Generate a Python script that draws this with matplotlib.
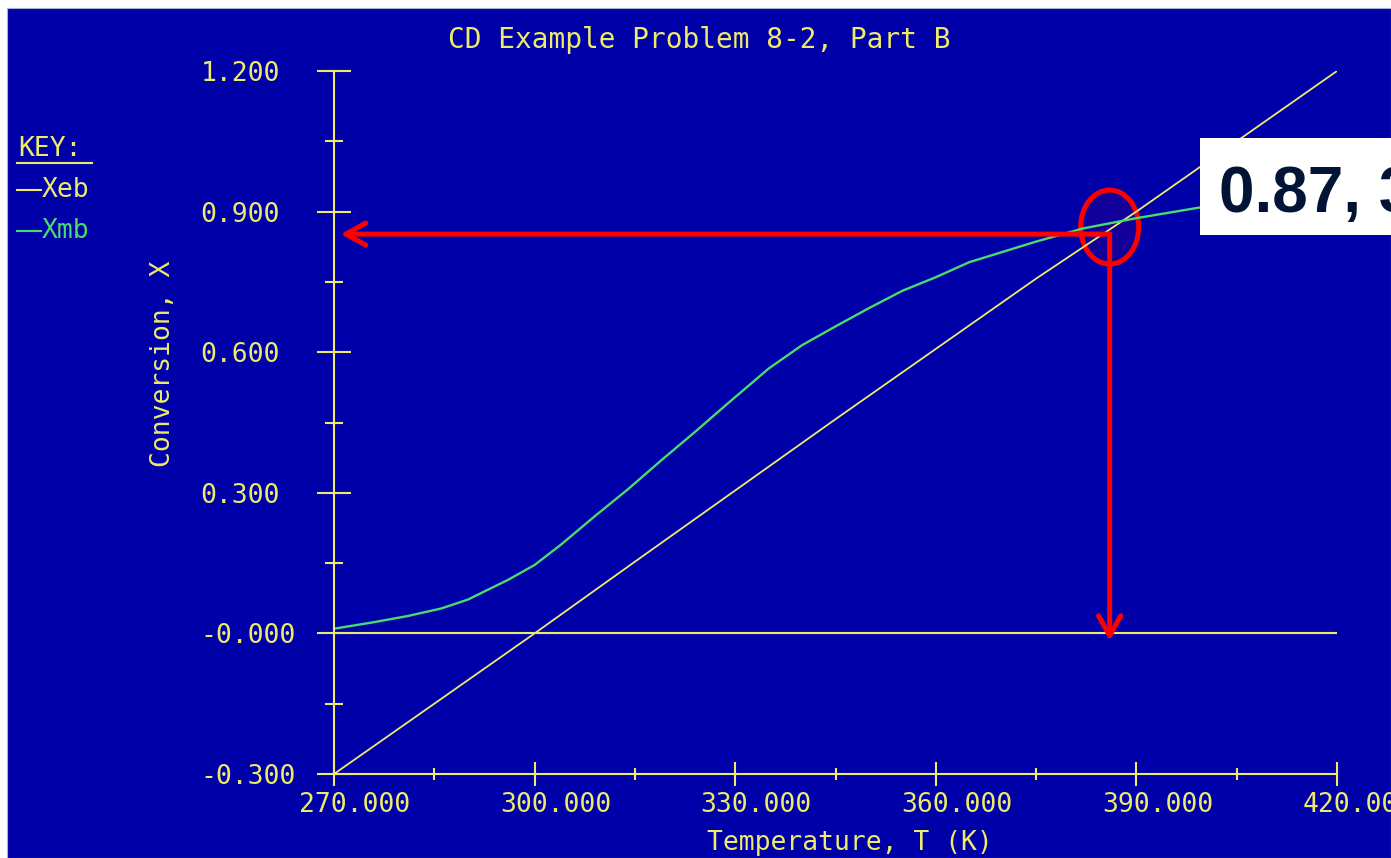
"""
CD Example Problem 8-2, Part B
    conversion vs. temperature: energy balance (Xeb) and mole balance (Xmb),
    with the read-off of the crossing point marked in red
"""

#%% import modules

import numpy as np
import matplotlib.pyplot as plt
import matplotlib as mpl
from matplotlib.patches import Rectangle, Ellipse
from matplotlib.lines import Line2D
from matplotlib.transforms import ScaledTranslation

#%% global plot settings

mpl.rcParams.update(mpl.rcParamsDefault)
plt.rc('font', **{'family': 'monospace', 'monospace': ['DejaVu Sans Mono'], 'size': 19})

bg_blue = '#0000A8'
yel = '#EEEA6A'
grn = '#48DC6C'
red = '#FF0000'

#%% data (read off the screen shot)

# energy balance conversion
T_eb = [270, 285, 300, 315, 330, 345, 360, 375, 390, 405, 420]
X_eb = [-0.300, -0.150, 0.000, 0.153, 0.305, 0.457, 0.607, 0.757, 0.900, 1.050, 1.200]

# mole balance conversion
T_mb = [270, 276, 281, 286, 290, 296, 300, 304, 309, 314, 319, 324, 329,
        335, 340, 345, 350, 355, 360, 365, 370, 375, 382, 390, 400, 410, 420]
X_mb = [0.010, 0.024, 0.037, 0.053, 0.072, 0.114, 0.146, 0.190, 0.250, 0.308,
        0.370, 0.430, 0.492, 0.565, 0.615, 0.655, 0.694, 0.731, 0.760, 0.792,
        0.814, 0.836, 0.864, 0.886, 0.910, 0.925, 0.938]

x_ticks = [270, 300, 330, 360, 390, 420]
x_minor = [285, 315, 345, 375, 405]
x_ticklabels = ['270.000', '300.000', '330.000', '360.000', '390.000', '420.000']
y_ticks = [-0.3, 0.0, 0.3, 0.6, 0.9, 1.2]
y_minor = [-0.15, 0.15, 0.45, 0.75, 1.05]
y_ticklabels = ['-0.300', '-0.000', '0.300', '0.600', '0.900', '1.200']

# key entries
key_names = ['Xeb', 'Xmb']
key_colors = [yel, grn]

# red read-off marks
T_mark = 386.0
X_mark = 0.852
T_arrow_end = 271.0
X_arrow_end = -0.016
X_circle = 0.867
callout = '0.87, 3'

#%% plot

W, H = 1391, 858
fig = plt.figure(figsize=(W/100, H/100), dpi=100, facecolor='white')

# blue screen area (white strip left and top)
fig.patches.append(Rectangle((7/W, 0), 1 - 7/W, (H - 8)/H, transform=fig.transFigure,
                             facecolor=bg_blue, edgecolor='#A8B0E0', lw=0.8, zorder=-1))

ax = fig.add_axes([334/W, (H - 774)/H, (1337 - 334)/W, (774 - 71)/H])
ax.set_facecolor('none')

ax.plot(T_eb, X_eb, color=yel, lw=1.3)
ax.plot(T_mb, X_mb, color=grn, lw=1.7)
ax.axhline(0, color=yel, lw=1.5)

#------------------------------------------------------------------------------
# axes

ax.set_xlim(270, 420)
ax.set_ylim(-0.3, 1.2)
for s in ['top', 'right']:
    ax.spines[s].set_visible(False)
for s in ['left', 'bottom']:
    ax.spines[s].set_color(yel)
    ax.spines[s].set_linewidth(1.5)

ax.set_xticks(x_ticks)
ax.set_xticks(x_minor, minor=True)
ax.set_xticklabels(x_ticklabels)
ax.set_yticks(y_ticks)
ax.set_yticks(y_minor, minor=True)
ax.set_yticklabels(y_ticklabels, ha='left')

ax.tick_params(axis='y', which='major', direction='inout', length=24.5, width=1.5,
               color=yel, labelcolor=yel, pad=84)
ax.tick_params(axis='y', which='minor', direction='inout', length=13, width=1.5, color=yel)
ax.tick_params(axis='x', which='major', direction='inout', length=17.3, width=1.5,
               color=yel, labelcolor=yel, pad=4.3)
ax.tick_params(axis='x', which='minor', direction='inout', length=8.6, width=1.5, color=yel)

# x labels sit a bit right of their ticks on the original screen
shift = ScaledTranslation(0.21, 0, fig.dpi_scale_trans)
for lab in ax.get_xticklabels():
    lab.set_transform(lab.get_transform() + shift)

#------------------------------------------------------------------------------
# texts

fig.text(0.503, 1 - 40/H, 'CD Example Problem 8-2, Part B', color=yel,
         ha='center', va='center', fontsize=20)
fig.text(850/W, 1 - 843/H, 'Temperature, T (K)', color=yel, ha='center', va='center')
fig.text(163/W, 1 - 364/H, 'Conversion, X', color=yel, ha='center', va='center',
         rotation=90)

# key
fig.text(18/W, 1 - 149/H, 'KEY:', color=yel, ha='left', va='center')
fig.add_artist(Line2D([17/W, 92/W], [1 - 163/H]*2, transform=fig.transFigure,
                      color=yel, lw=1.5))
for i, (name, c) in enumerate(zip(key_names, key_colors)):
    ypos = 1 - (190 + 41*i)/H
    fig.add_artist(Line2D([17/W, 41/W], [ypos]*2, transform=fig.transFigure,
                          color=c, lw=1.5))
    fig.text(42/W, ypos, name, color=c, ha='left', va='center')

#------------------------------------------------------------------------------
# red read-off marks

arrow = dict(arrowstyle='->,head_length=0.72,head_width=0.4', mutation_scale=20,
             color=red, lw=3.6, shrinkA=0, shrinkB=0)
ax.annotate('', xy=(T_arrow_end, X_mark), xytext=(T_mark, X_mark),
            arrowprops=arrow, annotation_clip=False)
ax.annotate('', xy=(T_mark, X_arrow_end), xytext=(T_mark, X_mark),
            arrowprops=arrow, annotation_clip=False)
ax.add_patch(Ellipse((T_mark, X_circle), width=8.7, height=0.158,
                     facecolor=(1, 0, 0, 0.08), edgecolor=red, lw=3.6, clip_on=False))

# callout box
fig.patches.append(Rectangle((1200/W, 1 - 235/H), (W - 1200)/W, 97/H,
                             transform=fig.transFigure, facecolor='white',
                             edgecolor='none', zorder=5))
fig.text(1219/W, 1 - 212/H, callout, family='Liberation Sans', fontweight='bold',
         fontsize=46, color='#021435', ha='left', va='baseline', zorder=6)

#------------------------------------------------------------------------------
# save plot

fig.savefig('out.png', dpi=100, facecolor='white')
